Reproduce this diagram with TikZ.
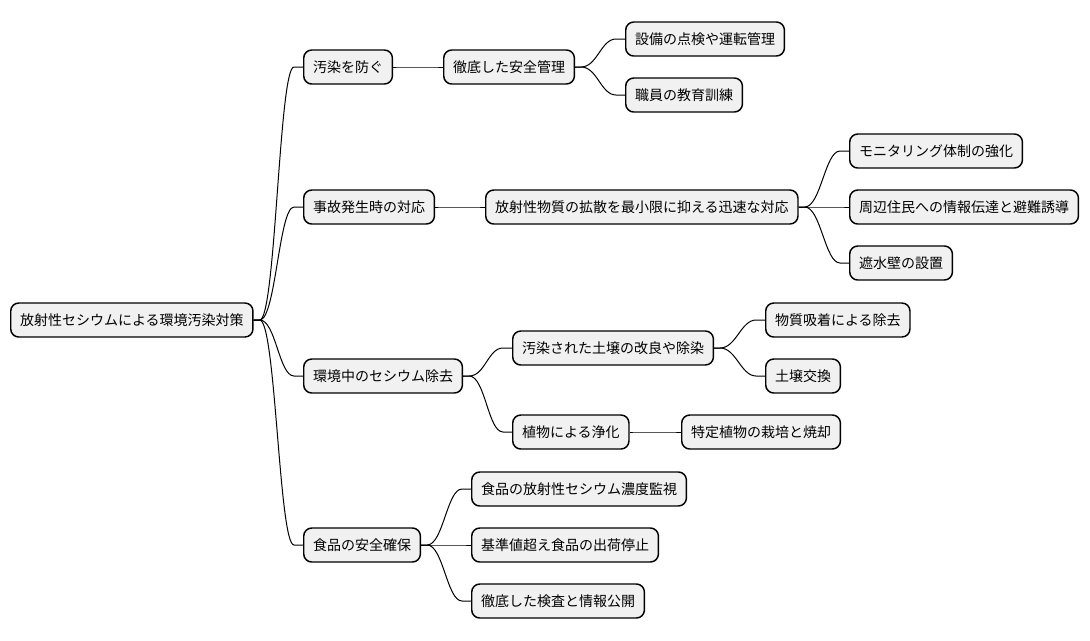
\documentclass[tikz,border=0pt]{standalone}
\usepackage{fontspec}
\setmainfont{Noto Sans CJK JP}
\usepackage{tikz}
\usetikzlibrary{calc}
\definecolor{topicfill}{HTML}{F1F1F1}

\begin{document}
\begin{tikzpicture}[x=0.75pt, y=-0.75pt, font=\fontsize{10.5pt}{12pt}\selectfont,
                    topic/.style={draw=black, line width=1.1pt, fill=topicfill, rounded corners=6pt,
                                  anchor=west, minimum height=25.5pt, inner xsep=7pt, inner ysep=0pt},
                    branch/.style={line width=0.75pt, to path={-- ($(\tikztostart)+(6,0)$)
                                   .. controls ($(\tikztostart)+(22,0)$) and ($(\tikztotarget)+(-24,0)$)
                                   .. ($(\tikztotarget)+(-9,0)$) -- (\tikztotarget)}}]
    \useasboundingbox (0,0) rectangle (1090,640);

    % Root
    \node[topic] (root) at (10, 320) {放射性セシウムによる環境汚染対策};

    % First level
    \node[topic] (prevent)  at (303,  67) {汚染を防ぐ};
    \node[topic] (accident) at (303, 207) {事故発生時の対応};
    \node[topic] (remove)   at (303, 376) {環境中のセシウム除去};
    \node[topic] (food)     at (303, 545) {食品の安全確保};

    % Second level
    \node[topic] (safety)   at (443,  67) {徹底した安全管理};
    \node[topic] (rapid)    at (485, 207) {放射性物質の拡散を最小限に抑える迅速な対応};
    \node[topic] (soil)     at (512, 348) {汚染された土壌の改良や除染};
    \node[topic] (plant)    at (512, 432) {植物による浄化};
    \node[topic] (monitor)  at (471, 489) {食品の放射性セシウム濃度監視};
    \node[topic] (stop)     at (471, 545) {基準値超え食品の出荷停止};
    \node[topic] (inspect)  at (471, 601) {徹底した検査と情報公開};

    % Third level
    \node[topic] (check)    at (625,  39) {設備の点検や運転管理};
    \node[topic] (train)    at (625,  95) {職員の教育訓練};
    \node[topic] (watch)    at (849, 151) {モニタリング体制の強化};
    \node[topic] (evac)     at (849, 207) {周辺住民への情報伝達と避難誘導};
    \node[topic] (wall)     at (849, 263) {遮水壁の設置};
    \node[topic] (adsorb)   at (765, 320) {物質吸着による除去};
    \node[topic] (swap)     at (765, 376) {土壌交換};
    \node[topic] (burn)     at (681, 432) {特定植物の栽培と焼却};

    % Branches from root
    \draw[branch] (root.east) to (prevent.west);
    \draw[branch] (root.east) to (accident.west);
    \draw[branch] (root.east) to (remove.west);
    \draw[branch] (root.east) to (food.west);

    % Branches to second level
    \draw[branch] (prevent.east) to (safety.west);
    \draw[branch] (accident.east) to (rapid.west);
    \draw[branch] (remove.east) to (soil.west);
    \draw[branch] (remove.east) to (plant.west);
    \draw[branch] (food.east) to (monitor.west);
    \draw[branch] (food.east) to (stop.west);
    \draw[branch] (food.east) to (inspect.west);

    % Branches to third level
    \draw[branch] (safety.east) to (check.west);
    \draw[branch] (safety.east) to (train.west);
    \draw[branch] (rapid.east) to (watch.west);
    \draw[branch] (rapid.east) to (evac.west);
    \draw[branch] (rapid.east) to (wall.west);
    \draw[branch] (soil.east) to (adsorb.west);
    \draw[branch] (soil.east) to (swap.west);
    \draw[branch] (plant.east) to (burn.west);
\end{tikzpicture}
\end{document}
